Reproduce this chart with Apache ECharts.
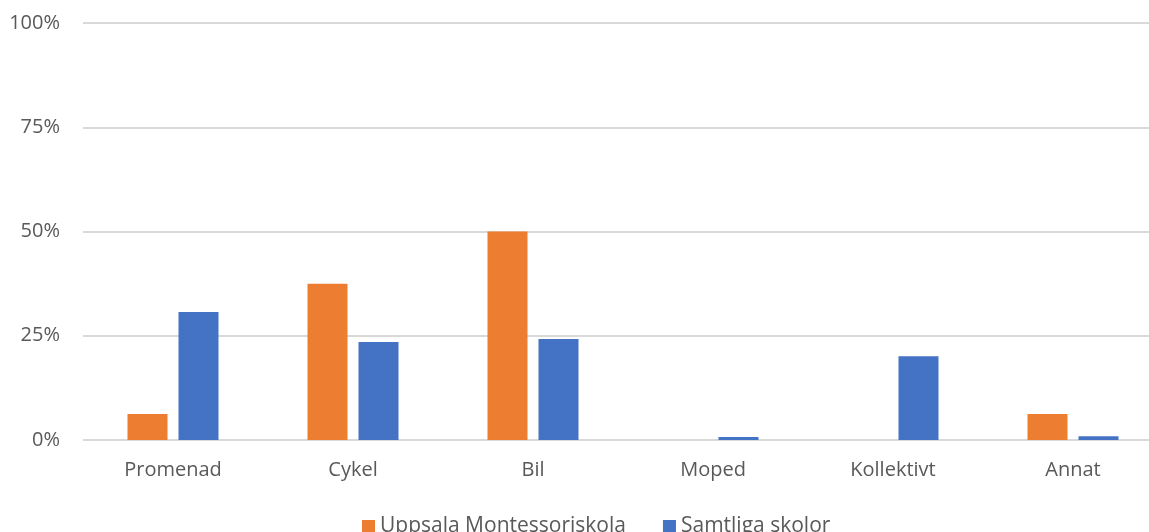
<!DOCTYPE html>
<html>
<head>
<meta charset="utf-8">
<script src="https://cdn.jsdelivr.net/npm/echarts@6/dist/echarts.min.js"></script>
<style>html,body{margin:0;padding:0;background:#fff;}#c{width:1149px;height:532px;}</style>
</head>
<body>
<div id="c"></div>
<script>
const categories = ['Promenad', 'Cykel', 'Bil', 'Moped', 'Kollektivt', 'Annat'];
const uppsala = [6.25, 37.5, 50, 0, 0, 6.25];
const samtliga = [30.7, 23.5, 24.2, 0.7, 20.1, 0.9];
const seriesNames = ['Uppsala Montessoriskola', 'Samtliga skolor'];
const yTicks = [0, 25, 50, 75, 100];

const font = '"Open Sans", sans-serif';
const chart = echarts.init(document.getElementById('c'));
chart.setOption({
  animation: false,
  backgroundColor: '#fff',
  textStyle: { fontFamily: font },
  grid: { left: 83, width: 1080, top: 23, bottom: 92, containLabel: false, outerBoundsMode: 'none' },
  legend: {
    left: 362, top: 516, padding: 0,
    itemWidth: 13, itemHeight: 13, itemGap: 37,
    icon: 'rect',
    textStyle: { fontSize: 21, color: '#595959', fontFamily: font },
    data: seriesNames
  },
  xAxis: {
    type: 'category',
    data: categories,
    axisLine: { show: false },
    axisTick: { show: false },
    axisLabel: { fontSize: 20, color: '#595959', margin: 20, fontFamily: font }
  },
  yAxis: {
    type: 'value', min: 0, max: 100, interval: 25,
    axisLabel: { fontSize: 20, color: '#595959', margin: 23, fontFamily: font,
      formatter: v => yTicks.includes(v) ? v + '%' : '' },
    splitLine: { lineStyle: { color: '#d9d9d9', width: 2 } },
    axisLine: { show: false }, axisTick: { show: false }
  },
  series: [
    { name: seriesNames[0], type: 'bar', data: uppsala, barWidth: 40, barGap: '27.5%', itemStyle: { color: '#ED7D31' } },
    { name: seriesNames[1], type: 'bar', data: samtliga, barWidth: 40, itemStyle: { color: '#4472C4' } }
  ]
});
</script>
</body>
</html>
